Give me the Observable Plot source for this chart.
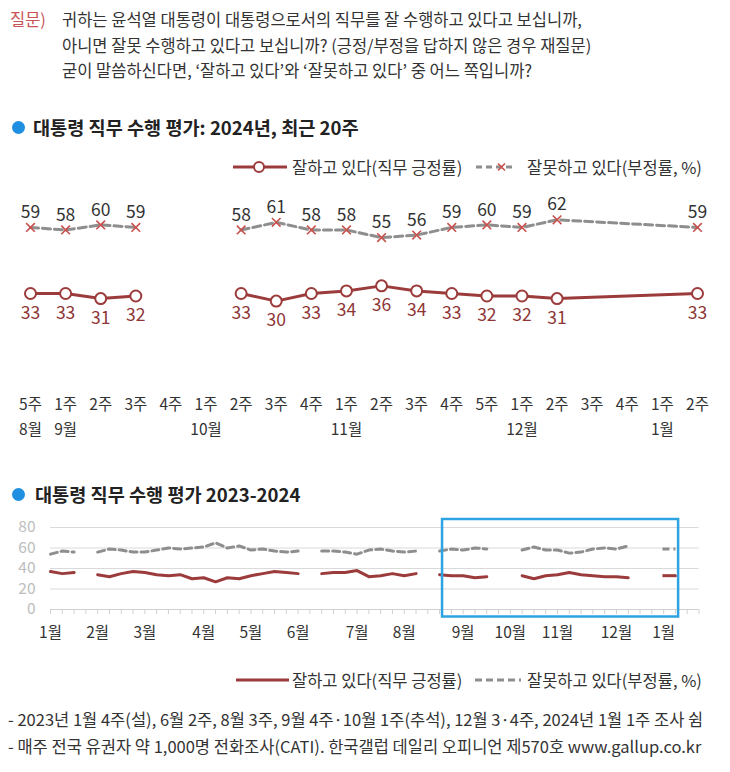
<!DOCTYPE html>
<html>
<head>
<meta charset="utf-8">
<script src="https://cdn.jsdelivr.net/npm/d3@7"></script>
<script src="https://cdn.jsdelivr.net/npm/@observablehq/plot@0.6"></script>
<style>
  body { margin: 0; background: #fff; font-family: "Noto Sans CJK KR", "Noto Sans", sans-serif; color: #333; }
  #root { position: relative; width: 730px; height: 772px; overflow: hidden; background: #fff; }
  .abs { position: absolute; white-space: nowrap; }
  .q { font-size: 16.5px; line-height: 25.5px; color: #333; }
  .title { font-size: 18.6px; font-weight: bold; color: #222; line-height: 24px; }
  .bullet { position: absolute; width: 13px; height: 13px; border-radius: 50%; background: #1E8FE1; }
  .leg { font-size: 16.5px; line-height: 22px; color: #333; }
  .foot { font-size: 16.5px; line-height: 22px; color: #333; }
  svg.sw { position: absolute; overflow: visible; }
  .plot { position: absolute; left: 0; }
</style>
</head>
<body>
<div id="root"></div>
<script>
// ---------------- DATA ----------------
const question = [
  "귀하는 윤석열 대통령이 대통령으로서의 직무를 잘 수행하고 있다고 보십니까,",
  "아니면 잘못 수행하고 있다고 보십니까? (긍정/부정을 답하지 않은 경우 재질문)",
  "굳이 말씀하신다면, ‘잘하고 있다’와 ‘잘못하고 있다’ 중 어느 쪽입니까?"
];
const titleTop = "대통령 직무 수행 평가: 2024년, 최근 20주";
const titleBottom = "대통령 직무 수행 평가 2023-2024";
const seriesNames = ["잘하고 있다(직무 긍정률)", "잘못하고 있다(부정률, %)"];
const footnotes = [
  "- 2023년 1월 4주(설), 6월 2주, 8월 3주, 9월 4주·10월 1주(추석), 12월 3·4주, 2024년 1월 1주 조사 쉼",
  "- 매주 전국 유권자 약 1,000명 전화조사(CATI). 한국갤럽 데일리 오피니언 제570호 www.gallup.co.kr"
];

// weekly series, 54 weeks (null = no survey)
const approveYear = [
  37, 35, 36, null,          // 1월
  34, 32, 35, 37,            // 2월
  36, 34, 33, 34, 30,        // 3월
  31, 27, 31, 30,            // 4월
  33, 35, 37, 36,            // 5월
  35, null, 35, 36, 36,      // 6월
  38, 32, 33, 35,            // 7월
  33, 35, null, 34, 33,      // 8월
  33, 31, 32, null,          // 9월
  null, 33, 30, 33,          // 10월
  34, 36, 34, 33, 32,        // 11월
  32, 31, null, null,        // 12월
  null, 33                   // 1월
];
const disapproveYear = [
  54, 57, 56, null,
  56, 59, 58, 56,
  56, 58, 60, 59, 60,
  61, 65, 60, 62,
  58, 59, 57, 56,
  57, null, 57, 57, 56,
  54, 58, 59, 57,
  56, 57, null, 57, 59,
  58, 60, 59, null,
  null, 58, 61, 58,
  58, 55, 56, 59, 60,
  59, 62, null, null,
  null, 59
];
const monthsYear = ["1월","2월","3월","4월","5월","6월","7월","8월","9월","10월","11월","12월","1월"];
const monthsYearAt = [0, 4, 8, 13, 17, 21, 26, 30, 35, 39, 43, 48, 52];

const recentCount = 20;
const weeks20 = ["5주","1주","2주","3주","4주","1주","2주","3주","4주","1주","2주","3주","4주","5주","1주","2주","3주","4주","1주","2주"];
const months20 = ["8월","9월","10월","11월","12월","1월"];
const months20At = [0, 1, 5, 9, 14, 18];

// ---------------- STYLE ----------------
const FONT = '"Noto Sans CJK KR", "Noto Sans", sans-serif';
const RED = "#9C3B3B";
const RED_TEXT = "#8E3636";
const GRAY = "#8E8E8E";
const XRED = "#C8504D";
const BLUE = "#2EA3E3";

const root = document.getElementById("root");
function add(html) { root.insertAdjacentHTML("beforeend", html); }

// question block
add(`<div class="abs q" style="left:10px;top:7px;color:#C8555A">질문)</div>`);
question.forEach((t, i) => add(`<div class="abs q" style="left:62px;top:${7 + i * 25.5}px">${t}</div>`));

// titles
add(`<div class="bullet" style="left:12px;top:121px"></div>`);
add(`<div class="abs title" style="left:33px;top:115px">${titleTop}</div>`);
add(`<div class="bullet" style="left:12px;top:488px"></div>`);
add(`<div class="abs title" style="left:35px;top:482px">${titleBottom}</div>`);

// top legend
add(`<svg class="sw" style="left:232px;top:157px" width="56" height="20">
  <line x1="1" y1="10" x2="55" y2="10" stroke="${RED}" stroke-width="3"/>
  <circle cx="27" cy="10" r="5" fill="#fff" stroke="${RED}" stroke-width="2"/></svg>`);
add(`<div class="abs leg" style="left:292px;top:156px">${seriesNames[0]}</div>`);
add(`<svg class="sw" style="left:475px;top:157px" width="40" height="20">
  <line x1="1" y1="10" x2="38" y2="10" stroke="${GRAY}" stroke-width="3" stroke-dasharray="6,4"/>
  <path d="M23,6.5 L30,13.5 M30,6.5 L23,13.5" stroke="${XRED}" stroke-width="1.6"/></svg>`);
add(`<div class="abs leg" style="left:527px;top:156px">${seriesNames[1]}</div>`);

// bottom legend
add(`<svg class="sw" style="left:235px;top:670px" width="56" height="20">
  <line x1="1" y1="10" x2="54" y2="10" stroke="${RED}" stroke-width="3"/></svg>`);
add(`<div class="abs leg" style="left:292px;top:669px">${seriesNames[0]}</div>`);
add(`<svg class="sw" style="left:474px;top:670px" width="50" height="20">
  <line x1="1" y1="10" x2="47" y2="10" stroke="${GRAY}" stroke-width="3" stroke-dasharray="7,4"/></svg>`);
add(`<div class="abs leg" style="left:527px;top:669px">${seriesNames[1]}</div>`);

// footnotes
footnotes.forEach((t, i) => add(`<div class="abs foot" style="left:8px;top:${708 + i * 27}px">${t}</div>`));

// ---------------- TOP CHART ----------------
const n = approveYear.length;
const recentStart = n - recentCount;
const recent = d3.range(recentCount).map(i => ({
  i, pos: approveYear[recentStart + i], neg: disapproveYear[recentStart + i]
}));
const firstGap = recent.findIndex(d => d.pos == null);
recent.forEach(d => d.seg = d.i < firstGap ? 0 : 1);
const recentDef = recent.filter(d => d.pos != null);

const plotTop = Plot.plot({
  width: 730, height: 265, margin: 0,
  x: {domain: [0, recentCount - 1], range: [30, 697], axis: null},
  y: {domain: [20, 70], range: [146, 19], axis: null},
  style: {fontFamily: FONT, background: "transparent", overflow: "visible"},
  marks: [
    Plot.line(recentDef, {x: "i", y: "neg", z: "seg", stroke: GRAY, strokeWidth: 3, strokeDasharray: "8,4"}),
    Plot.line(recentDef, {x: "i", y: "pos", z: "seg", stroke: RED, strokeWidth: 3}),
    Plot.dot(recentDef, {x: "i", y: "neg", symbol: "times", r: 4, stroke: XRED, strokeWidth: 1.6}),
    Plot.dot(recentDef, {x: "i", y: "pos", r: 5.5, fill: "white", stroke: RED, strokeWidth: 2}),
    Plot.text(recentDef, {x: "i", y: "neg", text: "neg", dy: -15, fontSize: 17.5, fill: "#333"}),
    Plot.text(recentDef, {x: "i", y: "pos", text: "pos", dy: 19.5, fontSize: 17.5, fill: RED_TEXT}),
    Plot.text(weeks20, {x: (d, i) => i, text: d => d, frameAnchor: "bottom", lineAnchor: "middle", dy: -40, fontSize: 15.5, fill: "#333"}),
    Plot.text(months20, {x: (d, i) => months20At[i], text: d => d, frameAnchor: "bottom", lineAnchor: "middle", dy: -15, fontSize: 15.5, fill: "#333"})
  ]
});
plotTop.classList.add("plot");
plotTop.style.top = "180px";
root.appendChild(plotTop);

// ---------------- BOTTOM CHART ----------------
const yearData = approveYear.map((v, i) => ({i, pos: v, neg: disapproveYear[i]}));
const isolated = yearData.filter((d, i) => d.pos != null && approveYear[i - 1] == null && approveYear[i + 1] == null);
const xMax = 55;

const plotBottom = Plot.plot({
  width: 730, height: 140,
  marginTop: 22, marginBottom: 36, marginLeft: 50, marginRight: 31.5,
  x: {domain: [0, xMax]},
  y: {domain: [0, 80]},
  style: {fontFamily: FONT, background: "transparent", overflow: "visible"},
  marks: [
    Plot.gridY([20, 40, 60, 80], {stroke: "#dadada", strokeOpacity: 1, strokeWidth: 1}),
    Plot.axisY([0, 20, 40, 60, 80], {tickSize: 0, tickPadding: 15, fontSize: 15.5, fill: "#bdbdbd"}),
    Plot.ruleY([0], {stroke: "#d0d0d0"}),
    Plot.axisX({ticks: d3.range(xMax + 1), tickSize: 5, tickFormat: () => "", stroke: "#d0d0d0"}),
    Plot.line(yearData, {x: "i", y: "neg", stroke: GRAY, strokeWidth: 3, strokeDasharray: "7,4"}),
    Plot.line(yearData, {x: "i", y: "pos", stroke: RED, strokeWidth: 3}),
    Plot.link(isolated, {x1: d => d.i - 1.1, x2: d => d.i, y1: "neg", y2: "neg", stroke: GRAY, strokeWidth: 3, strokeDasharray: "7,4"}),
    Plot.link(isolated, {x1: d => d.i - 1.1, x2: d => d.i, y1: "pos", y2: "pos", stroke: RED, strokeWidth: 3}),
    Plot.rect([{x1: recentStart - 0.75, x2: n - 1 + 0.27}], {x1: "x1", x2: "x2", fill: "none", stroke: BLUE, strokeWidth: 2.5, insetTop: -8, insetBottom: -7.5}),
    Plot.text(monthsYear, {x: (d, i) => monthsYearAt[i], text: d => d, frameAnchor: "bottom", lineAnchor: "middle", dy: 24, fontSize: 15.5, fill: "#333"})
  ]
});
plotBottom.classList.add("plot");
plotBottom.style.top = "505px";
root.appendChild(plotBottom);
</script>
</body>
</html>
